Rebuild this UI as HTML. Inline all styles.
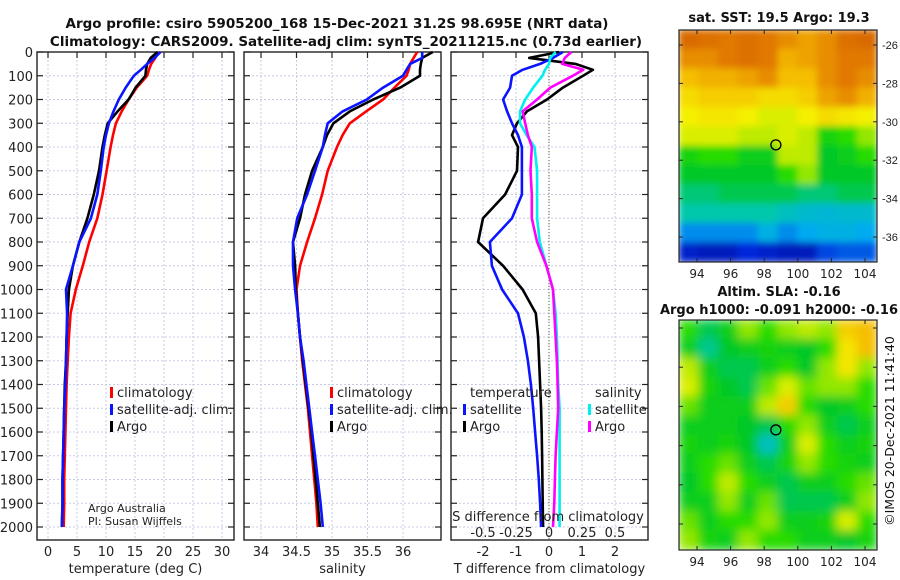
<!DOCTYPE html>
<html><head><meta charset="utf-8"><style>
html,body{margin:0;padding:0;background:#fff}
svg{display:block;font-family:"DejaVu Sans","Liberation Sans",sans-serif}
</style></head><body>
<svg id="chart" width="900" height="580" viewBox="0 0 900 580" xmlns="http://www.w3.org/2000/svg">
<rect width="900" height="580" fill="#fff"/>
<text x="337" y="28" font-size="13.5" font-weight="bold" text-anchor="middle" fill="#111">Argo profile: csiro 5905200_168 15-Dec-2021 31.2S 98.695E (NRT data)</text>
<text x="346" y="46" font-size="13.5" font-weight="bold" text-anchor="middle" fill="#111">Climatology: CARS2009. Satellite-adj clim: synTS_20211215.nc (0.73d earlier)</text>
<text x="779" y="22" font-size="13" font-weight="bold" text-anchor="middle" fill="#111">sat. SST: 19.5 Argo: 19.3</text>
<text x="779" y="296" font-size="13" font-weight="bold" text-anchor="middle" fill="#111">Altim. SLA: -0.16</text>
<text x="779" y="314" font-size="13" font-weight="bold" text-anchor="middle" fill="#111">Argo h1000: -0.091 h2000: -0.16</text>
<text transform="translate(894,431) rotate(-90)" font-size="12.5" text-anchor="middle" fill="#111">©IMOS 20-Dec-2021 11:41:40</text>
<g id="plots"></g>
</svg>
<script>
// ---------- data ----------
const depths = [0,25,50,75,100,150,200,250,300,350,400,500,600,700,800,900,1000,1100,1200,1300,1400,1500,1600,1700,1800,1900,2000];
const tempClim = [19.0,18.5,17.8,17.4,17.1,15.3,13.9,12.7,11.7,11.2,10.8,10.1,9.4,8.5,7.1,6.0,4.8,3.9,3.6,3.4,3.2,3.1,3.0,2.9,2.8,2.8,2.7];
const tempSat  = [19.4,18.4,17.1,16.0,14.8,13.4,12.2,11.3,10.5,10.0,9.6,9.1,8.5,7.4,5.4,4.3,3.1,3.3,3.2,3.1,3.0,2.8,2.7,2.6,2.5,2.5,2.4];
const tempArgo = [18.9,17.7,17.1,16.9,16.8,15.1,13.9,12.0,10.3,9.8,9.4,8.8,7.9,6.8,5.4,4.3,3.6,3.4,3.2,3.1,2.9,2.8,2.7,2.6,2.5,2.5,2.4];
const salClim = [36.2,36.15,36.1,36.08,36.05,35.88,35.72,35.48,35.25,35.15,35.07,34.94,34.86,34.76,34.65,34.55,34.50,34.52,34.55,34.58,34.62,34.66,34.69,34.72,34.75,34.78,34.80];
const salSat  = [36.27,36.27,36.1,36.05,36.0,35.72,35.49,35.15,34.94,34.9,34.87,34.76,34.65,34.51,34.45,34.45,34.48,34.52,34.55,34.6,34.64,34.68,34.72,34.76,34.8,34.84,34.87];
const salArgo = [36.42,36.27,36.25,36.24,36.24,35.96,35.58,35.25,35.02,34.93,34.87,34.72,34.62,34.55,34.45,34.48,34.49,34.52,34.55,34.59,34.63,34.67,34.71,34.74,34.77,34.8,34.83];
const dTArgo = [0.3,-0.6,0.8,1.33,1.03,0.42,-0.06,-0.67,-0.97,-1.12,-0.94,-0.97,-1.33,-2.0,-2.15,-1.39,-0.8,-0.4,-0.33,-0.3,-0.27,-0.24,-0.22,-0.21,-0.2,-0.19,-0.18];
const dTSat  = [0.42,0.12,-0.27,-0.8,-1.12,-1.18,-1.39,-1.27,-1.12,-0.94,-0.82,-0.82,-0.82,-1.12,-1.79,-1.73,-1.42,-0.94,-0.76,-0.64,-0.55,-0.48,-0.42,-0.36,-0.31,-0.27,-0.24];
const dSArgo = [0.17,0.12,0.1,0.26,0.18,0.01,-0.09,-0.2,-0.18,-0.16,-0.13,-0.14,-0.13,-0.13,-0.09,-0.02,0.03,0.04,0.05,0.06,0.065,0.07,0.06,0.05,0.045,0.04,0.03];
const dSSat  = [0.05,0.01,0.0,-0.03,-0.05,-0.12,-0.18,-0.22,-0.22,-0.17,-0.11,-0.09,-0.09,-0.09,-0.07,-0.02,0.03,0.05,0.06,0.065,0.07,0.08,0.08,0.08,0.08,0.08,0.08];
const depthTicks = [0,100,200,300,400,500,600,700,800,900,1000,1100,1200,1300,1400,1500,1600,1700,1800,1900,2000];
const tempTicks = [0,5,10,15,20,25,30];
const salTicks = [34,34.5,35,35.5,36];
const salTickLabels = ["34","34.5","35","35.5","36"];
const dTTicks = [-2,-1,0,1,2];
const dSTicks = [-0.5,-0.25,0,0.25,0.5];
const dSTickLabels = ["-0.5","-0.25","0","0.25","0.5"];
const lonTicks = [94,96,98,100,102,104];
const latTicks = [-26,-28,-30,-32,-34,-36];
const sstGrid = [
[0.92,0.9,0.88,0.9,0.88,0.85,0.82,0.85,0.9,0.92],
[0.85,0.85,0.88,0.9,0.88,0.8,0.82,0.85,0.88,0.88],
[0.78,0.8,0.8,0.82,0.85,0.78,0.78,0.85,0.88,0.85],
[0.72,0.75,0.75,0.75,0.72,0.72,0.75,0.82,0.85,0.8],
[0.68,0.7,0.7,0.68,0.65,0.65,0.68,0.72,0.7,0.68],
[0.65,0.65,0.65,0.62,0.62,0.65,0.62,0.52,0.55,0.6],
[0.52,0.55,0.55,0.5,0.5,0.62,0.62,0.48,0.5,0.55],
[0.48,0.48,0.48,0.48,0.48,0.55,0.6,0.48,0.48,0.48],
[0.42,0.42,0.45,0.45,0.45,0.45,0.42,0.42,0.45,0.45],
[0.38,0.38,0.38,0.38,0.38,0.35,0.33,0.32,0.33,0.33],
[0.25,0.25,0.25,0.25,0.3,0.25,0.28,0.3,0.3,0.28],
[0.12,0.1,0.1,0.15,0.12,0.1,0.1,0.18,0.2,0.2]];
const slaGrid = [
[0.55,0.45,0.5,0.6,0.55,0.6,0.62,0.6,0.75,0.78],
[0.5,0.4,0.48,0.5,0.52,0.5,0.48,0.55,0.7,0.78],
[0.62,0.5,0.45,0.45,0.5,0.55,0.48,0.6,0.7,0.6],
[0.65,0.52,0.48,0.45,0.58,0.65,0.58,0.6,0.6,0.55],
[0.58,0.5,0.5,0.5,0.62,0.75,0.55,0.48,0.5,0.55],
[0.5,0.5,0.5,0.48,0.45,0.55,0.6,0.5,0.45,0.5],
[0.52,0.5,0.52,0.48,0.35,0.5,0.65,0.55,0.5,0.52],
[0.5,0.55,0.58,0.5,0.45,0.52,0.6,0.55,0.52,0.5],
[0.48,0.55,0.62,0.55,0.5,0.45,0.5,0.5,0.55,0.58],
[0.5,0.5,0.6,0.5,0.58,0.45,0.45,0.45,0.5,0.6],
[0.58,0.5,0.55,0.55,0.6,0.5,0.5,0.52,0.65,0.55],
[0.6,0.52,0.5,0.6,0.55,0.55,0.5,0.5,0.48,0.52]];
const argoLon = 98.695, argoLat = -31.2;

// ---------- helpers ----------
const NS="http://www.w3.org/2000/svg";
const root=document.getElementById('plots');
function mk(tag,attrs,parent){const e=document.createElementNS(NS,tag);for(const k in attrs)e.setAttribute(k,attrs[k]);(parent||root).appendChild(e);return e;}
function txt(s,x,y,size,anchor,parent){const t=mk('text',{x:x,y:y,'font-size':size,'text-anchor':anchor||'middle',fill:'#222'},parent);t.textContent=s;return t;}
const Y0=52, YK=0.2375, PT=52, PB=540;
const yD=d=>Y0+d*YK;
const xT=v=>48+v*5.8;
const xS=v=>332+(v-35)*71;
const xDT=v=>549+v*33;
const xDS=v=>549+v*132;

function panel(name,L,R,xticks,xfn,xlabels,xtitle,showY){
  const g=mk('g',{});
  
  
  xticks.forEach(v=>{const x=xfn(v);const l=mk('line',{x1:x,x2:x,y1:PT,y2:PB,stroke:'#c9cbe6','stroke-width':1,'stroke-dasharray':'2,2'},g);
    
    });
  depthTicks.forEach(d=>{const y=yD(d);mk('line',{x1:L,x2:R,y1:y,y2:y,stroke:'#c9cbe6','stroke-width':1,'stroke-dasharray':'2,2'},g);
    mk('line',{x1:L,x2:L+6,y1:y,y2:y,stroke:'#222','stroke-width':1.2},g);
    mk('line',{x1:R-6,x2:R,y1:y,y2:y,stroke:'#222','stroke-width':1.2},g);
    if(showY){const t=txt(String(d),L-4,y+5,13,'end',g);
      
      }});
  xticks.forEach((v,i)=>{const x=xfn(v);mk('line',{x1:x,x2:x,y1:PT,y2:PT+6,stroke:'#222','stroke-width':1.2},g);
    if(xlabels){const t=txt(xlabels[i],x,556,13,'middle',g);
      
      }});
  mk('rect',{x:L,y:PT,width:R-L,height:PB-PT,fill:'none',stroke:'#222','stroke-width':1.4},g);
  const tt=txt(xtitle,(L+R)/2,573,13,'middle',g);
  
  
  return g;
}
function line(g,vals,xfn,color,name,w){
  const p=vals.map((v,i)=>xfn(v).toFixed(1)+','+yD(depths[i]).toFixed(1)).join(' ');
  const e=mk('polyline',{points:p,fill:'none',stroke:color,'stroke-width':w||2.6,'stroke-linejoin':'round'},g);
  
  
}
function legend(g,x,y,color,label,name){
  mk('rect',{x:x,y:y-10,width:3,height:11,fill:color},g);
  const t=txt(label,x+7,y,13,'start',g);
  
  
}

// Panel 1 temperature
const g1=panel('temperature-panel',37,234,tempTicks,xT,tempTicks.map(String),'temperature (deg C)',true);
line(g1,tempClim,xT,'#ff0000','temp-climatology-line');
line(g1,tempArgo,xT,'#000','temp-argo-line');
line(g1,tempSat,xT,'#0a14ff','temp-satellite-line');
legend(g1,110,397,'#ff0000','climatology','legend-climatology');
legend(g1,110,414,'#0a14ff','satellite-adj. clim.','legend-satellite');
legend(g1,110,431,'#000','Argo','legend-argo');
{const a=txt('Argo Australia',88,512,11,'start',g1);
 const b=txt('PI: Susan Wijffels',88,525,11,'start',g1);}

// Panel 2 salinity
const g2=panel('salinity-panel',244,441,salTicks,xS,salTickLabels,'salinity',false);
line(g2,salClim,xS,'#ff0000','sal-climatology-line');
line(g2,salArgo,xS,'#000','sal-argo-line');
line(g2,salSat,xS,'#0a14ff','sal-satellite-line');
legend(g2,330,397,'#ff0000','climatology','legend-climatology-2');
legend(g2,330,414,'#0a14ff','satellite-adj. clim.','legend-satellite-2');
legend(g2,330,431,'#000','Argo','legend-argo-2');

// Panel 3 differences
const g3=panel('difference-panel',451,648,dTTicks,xDT,dTTicks.map(String),'T difference from climatology',false);
{const z=mk('line',{x1:549,x2:549,y1:PT,y2:PB,stroke:'#556b2f','stroke-width':1,'stroke-dasharray':'1,2'},g3);
 }
line(g3,dTArgo,xDT,'#000','dT-argo-line');
line(g3,dTSat,xDT,'#0a14ff','dT-satellite-line');
line(g3,dSSat,xDS,'#00f0f0','dS-satellite-line');
line(g3,dSArgo,xDS,'#ff00ff','dS-argo-line');
{const t=txt('temperature',470,397,13,'start',g3);}
legend(g3,463,414,'#0a14ff','satellite','legend-t-satellite');
legend(g3,463,431,'#000','Argo','legend-t-argo');
{const t=txt('salinity',595,397,13,'start',g3);}
legend(g3,588,414,'#00f0f0','satellite','legend-s-satellite');
legend(g3,588,431,'#ff00ff','Argo','legend-s-argo');
{const t=txt('S difference from climatology',548,521,13,'middle',g3);}
dSTicks.forEach((v,i)=>{const t=txt(dSTickLabels[i],xDS(v),537,13,'middle',g3);
  
  });

// ---------- maps ----------
const stops=[[0,[0,0,128]],[0.15,[0,40,220]],[0.28,[0,170,240]],[0.38,[0,200,170]],[0.48,[0,200,40]],[0.55,[40,220,0]],[0.62,[190,235,0]],[0.68,[245,240,0]],[0.78,[245,190,0]],[0.88,[225,120,0]],[1,[200,80,0]]];
function cmap(v){for(let i=1;i<stops.length;i++){if(v<=stops[i][0]){const a=stops[i-1],b=stops[i];const t=(v-a[0])/(b[0]-a[0]);
  const c=a[1].map((q,k)=>Math.round(q+(b[1][k]-q)*t));return 'rgb('+c.join(',')+')';}}return 'rgb(200,80,0)';}
function map(name,grid,L,T,W,H,lat26,lat36,blurId,showLat){
  const g=mk('g',{});
  
  
  const rows=grid.length, cols=grid[0].length;
  const clip='clip-'+name;
  const cp=mk('clipPath',{id:clip},g);mk('rect',{x:L,y:T,width:W,height:H},cp);
  const cg=mk('g',{'clip-path':'url(#'+clip+')'},g);
  const ig=mk('g',{filter:'url(#'+blurId+')'},cg);
  grid.forEach((row,r)=>row.forEach((v,c)=>{
    const cell=mk('rect',{x:L+c*W/cols-0.5,y:T+r*H/rows-0.5,width:W/cols+1,height:H/rows+1,fill:cmap(v)},ig);
    
    }));
  mk('rect',{x:L,y:T,width:W,height:H,fill:'none',stroke:'#222','stroke-width':1.2},g);
  const xL=lon=>697+(lon-94)*16.8;
  const yL=lat=>lat26+(lat+26)*(lat26-lat36)/10;
  lonTicks.forEach(lon=>{const x=xL(lon);mk('line',{x1:x,x2:x,y1:T+H,y2:T+H-4,stroke:'#222'},g);mk('line',{x1:x,x2:x,y1:T,y2:T+4,stroke:'#222'},g);
    const t=txt(String(lon),x,T+H+16,12,'middle',g);});
  latTicks.forEach(lat=>{const y=yL(lat);mk('line',{x1:L,x2:L+4,y1:y,y2:y,stroke:'#222'},g);mk('line',{x1:L+W-4,x2:L+W,y1:y,y2:y,stroke:'#222'},g);
    if(showLat){const t=txt(String(lat),L+W+5,y+4,11,'start',g);t.setAttribute('font-family','"Liberation Sans",sans-serif');}});
  const m=mk('circle',{cx:xL(argoLon),cy:yL(argoLat),r:5,fill:'none',stroke:'#000','stroke-width':1.3},g);
  
  
}
const defs=mk('defs',{});
const f=mk('filter',{id:'blur',x:'-5%',y:'-5%',width:'110%',height:'110%'},defs);mk('feGaussianBlur',{stdDeviation:5},f);
const f2=mk('filter',{id:'blur2',x:'-5%',y:'-5%',width:'110%',height:'110%'},defs);mk('feGaussianBlur',{stdDeviation:3.5},f2);
map('sst-map',sstGrid,679,30,198,232,45,237,'blur2',true);
map('sla-map',slaGrid,679,320,198,230,328,524,'blur',false);
</script>
</body></html>
